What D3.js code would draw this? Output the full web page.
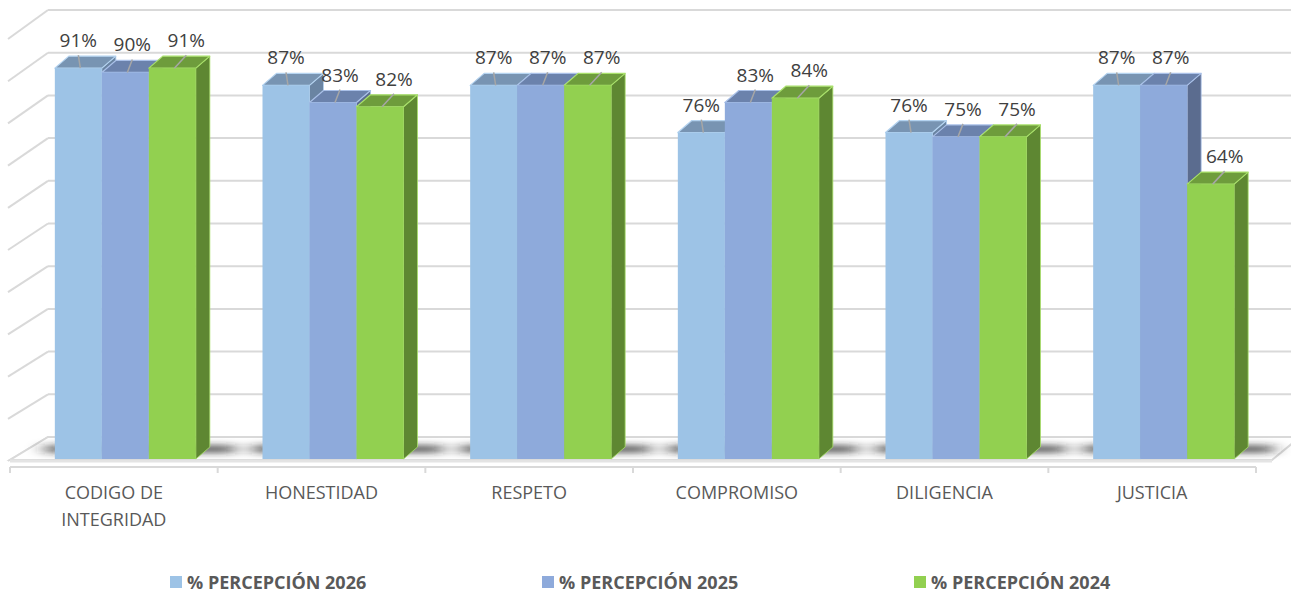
<!DOCTYPE html>
<html>
<head>
<meta charset="utf-8">
<script src="https://cdn.jsdelivr.net/npm/d3@7"></script>
<style>
  html, body { margin: 0; padding: 0; background: #ffffff; }
  svg { display: block; }
  text { font-family: "Open Sans", "DejaVu Sans", sans-serif; }
</style>
</head>
<body>
<svg id="chart" width="1291" height="593"></svg>
<script>
// ---------- data ----------
const categories = ["CODIGO DE INTEGRIDAD", "HONESTIDAD", "RESPETO", "COMPROMISO", "DILIGENCIA", "JUSTICIA"];
const seriesNames = ["% PERCEPCIÓN 2026", "% PERCEPCIÓN 2025", "% PERCEPCIÓN 2024"];
const values2026 = [91, 87, 87, 76, 76, 87];
const values2025 = [90, 83, 87, 83, 75, 87];
const values2024 = [91, 82, 87, 84, 75, 64];
const gridTicks = [0, 10, 20, 30, 40, 50, 60, 70, 80, 90, 100];

const seriesValues = [values2026, values2025, values2024];
const colors = [
  { front: "#9DC3E6", top: "#7894B2", side: "#6A84A2", edge: "#B4D3F0" },
  { front: "#8EAADB", top: "#6B82AC", side: "#5B6C8F", edge: "#A9C0E8" },
  { front: "#92D050", top: "#6E9C3C", side: "#5E8732", edge: "#A8E06A" }
];

// ---------- geometry ----------
const svg = d3.select("#chart");
const DX = 14, DY = -12;               // bar depth offset
const yFront = d3.scaleLinear().domain([0, 100]).range([459, 29.5]);
const yBack  = d3.scaleLinear().domain([0, 100]).range([437, 10]);
const ySideFront = d3.scaleLinear().domain([0, 100]).range([461, 39]);
const wallLeft = 48, wallFrontX = 8, wallRight = 1300;

const x0 = d3.scaleBand().domain(categories).range([10, 1256]).padding(0);
const groupW = 141, groupShift = 11.5;
const x1 = d3.scaleBand().domain(d3.range(seriesNames.length)).range([0, groupW]).padding(0);
const groupLeft = c => x0(c) + (x0.bandwidth() - groupW) / 2 + groupShift;

const gridColor = "#D9D9D9";

// ---------- walls ----------
const walls = svg.append("g");
gridTicks.forEach(t => {
  walls.append("line")
    .attr("x1", wallLeft).attr("x2", wallRight)
    .attr("y1", yBack(t)).attr("y2", yBack(t))
    .attr("stroke", gridColor).attr("stroke-width", 2);
  walls.append("line")
    .attr("x1", wallLeft).attr("y1", yBack(t))
    .attr("x2", wallFrontX).attr("y2", ySideFront(t))
    .attr("stroke", gridColor).attr("stroke-width", 2);
});

// floor
const floorFrontY = ySideFront(0) - 1;
walls.append("polygon")
  .attr("points", [[wallLeft, yBack(0)], [wallRight, yBack(0)], [1272, floorFrontY], [10, floorFrontY]].map(p => p.join(",")).join(" "))
  .attr("fill", "#ffffff").attr("stroke", gridColor).attr("stroke-width", 2);
walls.append("line")
  .attr("x1", 10).attr("x2", 1272).attr("y1", floorFrontY + 1).attr("y2", floorFrontY + 1)
  .attr("stroke", "#E4E4E4").attr("stroke-width", 3);

// shadows
const defs = svg.append("defs");
defs.append("filter").attr("id", "blur").attr("x", "-50%").attr("y", "-200%").attr("width", "200%").attr("height", "500%")
  .append("feGaussianBlur").attr("stdDeviation", "9 3");
const shadows = svg.append("g").attr("filter", "url(#blur)");
categories.forEach(c => {
  const gl = groupLeft(c);
  shadows.append("rect")
    .attr("x", gl - 10).attr("width", groupW + DX + 35)
    .attr("y", 445).attr("height", 8)
    .attr("fill", "#222").attr("opacity", 0.7);
});

// ---------- axis ----------
const axisY = 467;
svg.append("line").attr("x1", 10).attr("x2", 1256).attr("y1", axisY).attr("y2", axisY)
  .attr("stroke", gridColor).attr("stroke-width", 2);
const tickXs = categories.map(c => x0(c)).concat([x0.range()[1]]);
tickXs.forEach(tx => {
  svg.append("line").attr("x1", tx).attr("x2", tx).attr("y1", axisY).attr("y2", axisY + 6)
    .attr("stroke", gridColor).attr("stroke-width", 2);
});

// category labels with wrap
const catG = svg.append("g").attr("fill", "#595959").attr("font-size", 18).attr("text-anchor", "middle");
categories.forEach(c => {
  const t = catG.append("text").attr("x", x0(c) + x0.bandwidth() / 2).attr("y", 499);
  const words = c.split(" ");
  let line = [];
  let tspan = t.append("tspan").attr("x", x0(c) + x0.bandwidth() / 2).attr("dy", 0);
  words.forEach(w => {
    line.push(w);
    tspan.text(line.join(" "));
    if (tspan.node().getComputedTextLength() > 150 && line.length > 1) {
      line.pop();
      tspan.text(line.join(" "));
      line = [w];
      tspan = t.append("tspan").attr("x", x0(c) + x0.bandwidth() / 2).attr("dy", 27).text(w);
    }
  });
});

// ---------- bars ----------
const bars = svg.append("g");
const pts = arr => arr.map(p => p.join(",")).join(" ");
categories.forEach((c, ci) => {
  const gl = groupLeft(c);
  seriesValues.forEach((vals, si) => {
    const v = vals[ci];
    const xl = gl + x1(si), xr = xl + x1.bandwidth();
    const yt = yFront(v), yb = yFront(0);
    const col = colors[si];
    const g = bars.append("g");
    g.append("polygon")
      .attr("points", pts([[xr, yt], [xr + DX, yt + DY], [xr + DX, yb + DY], [xr, yb]]))
      .attr("fill", col.side).attr("stroke", col.edge).attr("stroke-width", 0.8).attr("stroke-linejoin", "round");
    g.append("polygon")
      .attr("points", pts([[xl, yt], [xr, yt], [xr + DX, yt + DY], [xl + DX, yt + DY]]))
      .attr("fill", col.top).attr("stroke", col.edge).attr("stroke-width", 1.2).attr("stroke-linejoin", "round");
    g.append("rect")
      .attr("x", xl).attr("y", yt).attr("width", xr - xl).attr("height", yb - yt)
      .attr("fill", col.front);
  });
});

// ---------- value labels ----------
const labG = svg.append("g");
categories.forEach((c, ci) => {
  const gl = groupLeft(c);
  seriesValues.forEach((vals, si) => {
    const v = vals[ci];
    const xl = gl + x1(si), xc = xl + x1.bandwidth() / 2;
    const yt = yFront(v);
    const lx = xc + DX / 2 + (si - 1) * 7;
    const ly = yt + DY / 2 - 22;
    labG.append("line")
      .attr("x1", lx).attr("y1", ly + 15)
      .attr("x2", xc + 2).attr("y2", yt)
      .attr("stroke", "#A6A6A6").attr("stroke-width", 1.5);
    labG.append("text")
      .attr("x", lx).attr("y", ly)
      .attr("text-anchor", "middle").attr("dominant-baseline", "central")
      .attr("font-size", 19).attr("fill", "#404040")
      .text(d3.format(".0f")(v) + "%");
  });
});

// ---------- legend ----------
const legX = d3.scaleBand().domain(seriesNames).range([170, 1286]);
const leg = svg.append("g");
seriesNames.forEach((s, si) => {
  const lx = legX(s);
  leg.append("rect").attr("x", lx).attr("y", 576).attr("width", 12).attr("height", 12).attr("fill", colors[si].front);
  leg.append("text").attr("x", lx + 17).attr("y", 582)
    .attr("dominant-baseline", "central")
    .attr("font-size", 18).attr("font-weight", "bold").attr("fill", "#595959")
    .text(s);
});
</script>
</body>
</html>
